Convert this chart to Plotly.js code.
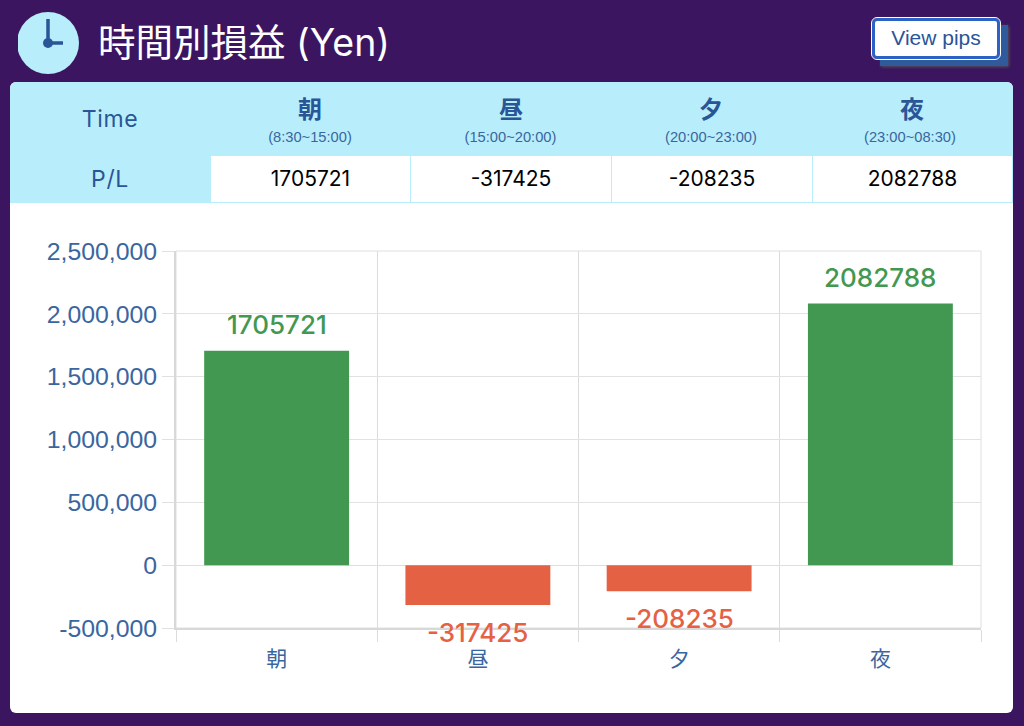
<!DOCTYPE html>
<html><head><meta charset="utf-8">
<script src="https://cdn.plot.ly/plotly-3.0.1.min.js"></script>
<style>
html,body{margin:0;padding:0;width:1024px;height:726px;overflow:hidden;background:#3c1560;}
.abs{position:absolute;box-sizing:border-box;}
.hd{text-align:center;color:#2a5597;font-family:"Inter","Noto Sans CJK JP",sans-serif;letter-spacing:0.6px;}
.val{position:absolute;top:156px;height:46px;background:#fff;text-align:center;color:#000;font:21px/46px "Inter",sans-serif;}
.jp{position:absolute;top:90px;width:200px;text-align:center;color:#2a5597;font:700 24px/36px "Noto Sans CJK JP",sans-serif;}
.sub{position:absolute;top:128px;width:200px;text-align:center;color:#3a66a0;font:14.7px/18px "Liberation Sans",sans-serif;}
</style></head>
<body>
<svg class="abs" style="left:18px;top:12px" width="62" height="62">
<circle cx="30" cy="31" r="31" fill="#b8eefb"/>
<line x1="30" y1="7" x2="30" y2="31" stroke="#2a5597" stroke-width="3.5"/>
<line x1="30" y1="31" x2="45" y2="31" stroke="#2a5597" stroke-width="3.5"/>
<circle cx="30" cy="31" r="5" fill="#2a5597"/>
</svg>
<div class="abs" id="ttl" style="left:98px;top:18px;color:#fff;font:37.5px/50px 'Inter','Noto Sans CJK JP',sans-serif;white-space:nowrap;"></div>
<div class="abs" style="left:880px;top:25px;width:128px;height:41px;background:#2f5a9c;box-shadow:1px 1px 3px #555;"></div>
<div class="abs" id="btn" style="left:872px;top:18px;width:128px;height:41px;background:#fff;border:3px solid #2b62c4;outline:1.5px solid #fff;border-radius:5px;color:#2a5597;text-align:center;font:21px/34px 'Liberation Sans',sans-serif;"></div>
<div class="abs" style="left:10px;top:82px;width:1003px;height:631px;background:#fff;border-radius:6px;"></div>
<div class="abs" style="left:10px;top:82px;width:1003px;height:121px;background:#b8eefb;border-radius:6px 6px 0 0;"></div>
<div id="tbl"></div>
<div class="abs" id="chart" style="left:10px;top:203px;width:1003px;height:510px;"></div>
<script>
var titleText = "時間別損益 (Yen)";
var buttonText = "View pips";
var rowLabels = ["Time", "P/L"];
var categories = ["朝", "昼", "夕", "夜"];
var timeRanges = ["(8:30~15:00)", "(15:00~20:00)", "(20:00~23:00)", "(23:00~08:30)"];
var values = [1705721, -317425, -208235, 2082788];
var yTickValues = [-500000, 0, 500000, 1000000, 1500000, 2000000, 2500000];
var yTickLabels = ["-500,000", "0", "500,000", "1,000,000", "1,500,000", "2,000,000", "2,500,000"];

document.getElementById("ttl").textContent = titleText;
document.getElementById("btn").textContent = buttonText;

var tbl = document.getElementById("tbl");
function add(cls, style, text){
  var d = document.createElement("div");
  d.className = cls; d.style.cssText = style; d.textContent = text; tbl.appendChild(d);
}
add("abs hd", "left:10px;top:102px;width:200px;font-size:23px;line-height:34px;", rowLabels[0]);
add("abs hd", "left:10px;top:162px;width:200px;font-size:23px;line-height:34px;", rowLabels[1]);
var headLeft = [210, 411, 611, 812];
var subLeft = [210, 410.5, 611, 810];
var cellLeft = [211, 411, 612, 813];
var cellWidth = [199, 200, 200, 199];
categories.forEach(function(c, i){
  add("jp", "left:" + headLeft[i] + "px", c);
  add("sub", "left:" + subLeft[i] + "px", timeRanges[i]);
  add("val", "left:" + cellLeft[i] + "px;width:" + cellWidth[i] + "px", String(values[i]));
});

var green = "#439851", red = "#e56144";
var colors = values.map(function(v){ return v >= 0 ? green : red; });

var trace = {
  type: "bar", x: categories, y: values, width: 0.72,
  marker: {color: colors}, hoverinfo: "skip", textposition: "none"
};
var annotations = values.map(function(v, i){
  return {
    x: categories[i], y: v, xref: "x", yref: "y",
    text: String(v), showarrow: false,
    yshift: v >= 0 ? 26 : -27,
    font: {family: "'Inter','Liberation Sans',sans-serif", size: 26, weight: 500, color: colors[i]}
  };
});
var layout = {
  width: 1003, height: 510,
  margin: {l: 166, r: 32, t: 48, b: 85},
  paper_bgcolor: "rgba(0,0,0,0)", plot_bgcolor: "rgba(0,0,0,0)",
  showlegend: false, bargap: 0.28,
  font: {family: "'Liberation Sans','Noto Sans CJK JP',sans-serif", color: "#3a66a0"},
  shapes: [{type: "rect", xref: "x domain", yref: "y domain", x0: 0, x1: 1, y0: 0, y1: 1,
            line: {color: "#e0e0e0", width: 1}, layer: "below"}],
  xaxis: {
    type: "category", tickson: "boundaries", ticks: "outside", ticklen: 12, tickcolor: "#dcdcdc",
    ticklabelstandoff: 11,
    showgrid: true, gridcolor: "#dcdcdc", gridwidth: 1,
    showline: true, linecolor: "#d8d8d8", linewidth: 2,
    tickfont: {family: "'Noto Sans CJK JP',sans-serif", size: 21, color: "#3a66a0"},
    fixedrange: true
  },
  yaxis: {
    range: [-500000, 2500000], tickmode: "array", tickvals: yTickValues, ticktext: yTickLabels,
    ticks: "outside", ticklen: 12,
    tickcolor: "#e0e0e0", showgrid: true, gridcolor: "#e2e2e2", gridwidth: 1,
    zeroline: true, zerolinecolor: "#dedede", zerolinewidth: 1,
    showline: true, linecolor: "#d8d8d8", linewidth: 2,
    tickfont: {size: 24.8, color: "#3a66a0"}, fixedrange: true, automargin: false
  },
  annotations: annotations
};
Plotly.newPlot("chart", [trace], layout, {displayModeBar: false, staticPlot: true});
</script>
</body></html>
